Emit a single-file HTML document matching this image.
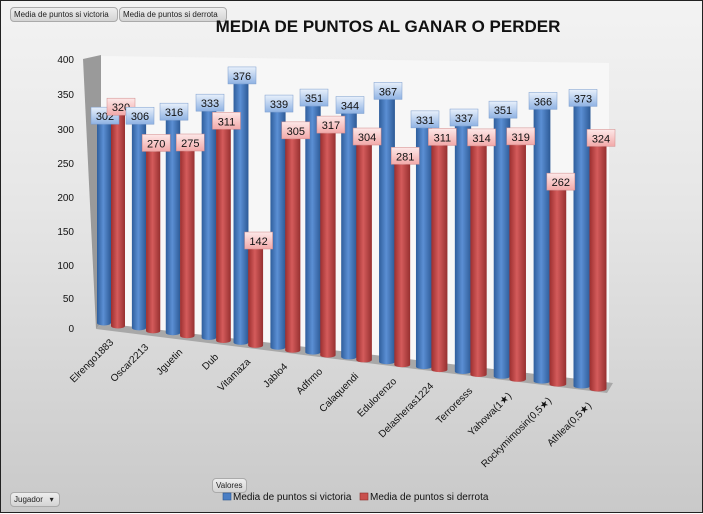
<!DOCTYPE html>
<html><head><meta charset="utf-8"><style>
body{margin:0;width:703px;height:513px;overflow:hidden;font-family:"Liberation Sans",sans-serif}
.c{position:absolute;left:0;top:0;width:701px;height:511px;border:1px solid #222;background:linear-gradient(#f3f3f3,#e6e6e6 40%,#c9c9c9)}
.btn{position:absolute;font-size:8px;color:#222;background:linear-gradient(#eee,#d4d4d4);border:1px solid #aaa;border-radius:4px;padding:1px 3px;line-height:11px}
</style></head><body><div class="c">
<div class="btn" style="left:9px;top:6px;width:100px">Media de puntos si victoria</div>
<div class="btn" style="left:118px;top:6px;width:100px">Media de puntos si derrota</div>
<div class="btn" style="left:211px;top:477px;">Valores</div>
<div class="btn" style="left:9px;top:491px;width:42px">Jugador &nbsp;&nbsp;▾</div>
<svg id="s" width="703" height="513" style="position:absolute;left:0;top:0" font-family="Liberation Sans, DejaVu Sans, sans-serif">
<defs>
<linearGradient id="gb" x1="0" x2="1"><stop offset="0" stop-color="#2f5e9c"/><stop offset=".45" stop-color="#5b8fd4"/><stop offset="1" stop-color="#2d5a96"/></linearGradient>
<linearGradient id="gr" x1="0" x2="1"><stop offset="0" stop-color="#9c2f2f"/><stop offset=".45" stop-color="#d45b5b"/><stop offset="1" stop-color="#963030"/></linearGradient>
<linearGradient id="lb" x1="0" y1="0" x2="0" y2="1"><stop offset="0" stop-color="#e8f0fb"/><stop offset="1" stop-color="#8fb2e3"/></linearGradient>
<linearGradient id="lr" x1="0" y1="0" x2="0" y2="1"><stop offset="0" stop-color="#fde8e8"/><stop offset="1" stop-color="#f2a9a9"/></linearGradient>
</defs>
<text x="387" y="31" text-anchor="middle" font-size="17" font-weight="bold" fill="#111">MEDIA DE PUNTOS AL GANAR O PERDER</text>
<polygon points="100,55 608,62 608,382 100,322" fill="#f7f7f7"/>
<polygon points="82,58 100,54 100,322 95,328" fill="#9a9a9a"/>
<polygon points="95,328 100,322 612,382 606,392" fill="#a8a8a8"/>
<g id="g"></g>
<rect x="222" y="492" width="8" height="7" fill="#4a7ec4" stroke="#2c5590" stroke-width=".6"/>
<text x="232" y="499" font-size="10" fill="#111">Media de puntos si victoria</text>
<rect x="359" y="492" width="8" height="7" fill="#c9504d" stroke="#8c2d2b" stroke-width=".6"/>
<text x="369" y="499" font-size="10" fill="#111">Media de puntos si derrota</text>
</svg></div>
<script>
var names=["Elrengo1883","Oscar2213","Jguetin","Dub","Vitamaza","Jablo4","Adfrmo","Calaquendi","Edulorenzo","Delasheras1224","Terroresss","Yahowa(1★)","Rockymimosin(0,5★)","Athlea(0,5★)"];
var v=[302,306,316,333,376,339,351,344,367,331,337,351,366,373];
var d=[320,270,275,311,142,305,317,304,281,311,314,319,262,324];
var bx=[103,138,172,208,240,277,312,348,386,423,462,501,541,581];
var h='';
var yl=[[400,62],[350,97],[300,132],[250,166],[200,200],[150,234],[100,268],[50,301],[0,331]];
yl.forEach(function(a){h+='<text x="73" y="'+a[1]+'" font-size="10" text-anchor="end" fill="#111">'+a[0]+'</text>';});
function bar(x,base,top,w,g){var rx=w/2,ry=2.5;
 return '<path d="M'+(x-rx)+','+top+' L'+(x-rx)+','+base+' A'+rx+','+ry+' 0 0 0 '+(x+rx)+','+base+' L'+(x+rx)+','+top+' Z" fill="url(#'+g+')"/><ellipse cx="'+x+'" cy="'+top+'" rx="'+rx+'" ry="'+ry+'" fill="'+(g=='gb'?'#6f9ede':'#de7a78')+'"/>';}
function lab(x,y,t,g,s){return '<rect x="'+(x-14)+'" y="'+(y-9)+'" width="28" height="17" fill="url(#'+g+')" stroke="'+s+'" stroke-width=".5"/><text x="'+x+'" y="'+(y+4)+'" font-size="11" text-anchor="middle" fill="#111">'+t+'</text>';}
var labs='';
for(var i=0;i<14;i++){
 var t=i/13, sc=0.665+0.09*t, base=322+63*t, w=14+3*t;
 var x=bx[i], xr=x+14+2*t;
 var tb=base-v[i]*sc, tr=base+3-d[i]*sc;
 h+=bar(x,base,tb,w,'gb')+bar(xr,base+3,tr,w,'gr');
 labs+=lab(x+1,tb-6,v[i],'lb','#7a9ccc')+lab(xr+3,tr-6,d[i],'lr','#d08a8a');
 var ex=x+10, ey=base+20;
 h+='<text transform="translate('+ex+','+ey+') rotate(-45)" text-anchor="end" font-size="10" fill="#111">'+names[i]+'</text>';
}
document.getElementById('g').innerHTML=h+labs;
</script>
</body></html>
